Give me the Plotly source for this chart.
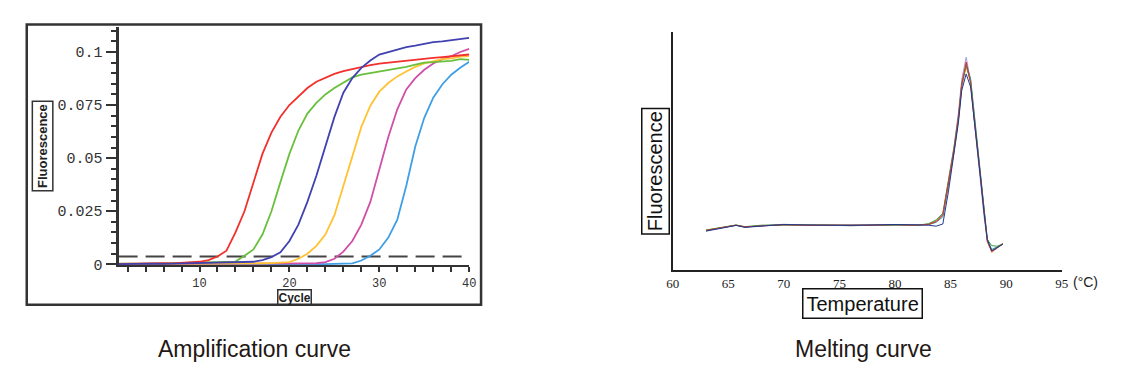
import plotly.graph_objects as go

# ---------------- Amplification curve data ----------------
cycles = list(range(1, 41))
amp_red = [0.0002, 0.0003, 0.0002, 0.0004, 0.0003, 0.0005, 0.0004, 0.0006, 0.0008, 0.0012,
           0.0020, 0.0037, 0.0064, 0.0150, 0.0250, 0.0380, 0.0520, 0.0620, 0.0695, 0.0750,
           0.0790, 0.0830, 0.0860, 0.0880, 0.0897, 0.0910, 0.0920, 0.0930, 0.0938, 0.0945,
           0.0950, 0.0955, 0.0960, 0.0965, 0.0970, 0.0972, 0.0976, 0.0980, 0.0984, 0.0988]
amp_green = [0.0003, 0.0002, 0.0004, 0.0003, 0.0003, 0.0004, 0.0005, 0.0004, 0.0005, 0.0006,
             0.0007, 0.0008, 0.0010, 0.0013, 0.0040, 0.0070, 0.0140, 0.0250, 0.0387, 0.0520,
             0.0630, 0.0710, 0.0760, 0.0800, 0.0830, 0.0854, 0.0880, 0.0893, 0.0900, 0.0908,
             0.0915, 0.0920, 0.0930, 0.0940, 0.0950, 0.0952, 0.0955, 0.0958, 0.0966, 0.0963]
amp_blue = [0.0001, 0.0002, 0.0001, 0.0002, 0.0003, 0.0002, 0.0003, 0.0002, 0.0003, 0.0004,
            0.0004, 0.0005, 0.0006, 0.0007, 0.0009, 0.0012, 0.0020, 0.0034, 0.0057, 0.0110,
            0.0187, 0.0294, 0.0417, 0.0555, 0.0693, 0.0808, 0.0877, 0.0925, 0.0960, 0.0988,
            0.1000, 0.1012, 0.1023, 0.1030, 0.1038, 0.1046, 0.1050, 0.1055, 0.1060, 0.1066]
amp_yellow = [0.0002, 0.0001, 0.0002, 0.0002, 0.0001, 0.0002, 0.0002, 0.0003, 0.0002, 0.0003,
              0.0003, 0.0002, 0.0003, 0.0003, 0.0004, 0.0004, 0.0005, 0.0006, 0.0008, 0.0010,
              0.0026, 0.0050, 0.0087, 0.0140, 0.0230, 0.0370, 0.0510, 0.0647, 0.0747, 0.0813,
              0.0854, 0.0885, 0.0908, 0.0930, 0.0946, 0.0957, 0.0966, 0.0970, 0.0978, 0.0980]
amp_magenta = [0.0001, 0.0001, 0.0002, 0.0001, 0.0001, 0.0002, 0.0001, 0.0002, 0.0002, 0.0001,
               0.0002, 0.0002, 0.0001, 0.0002, 0.0002, 0.0002, 0.0003, 0.0002, 0.0003, 0.0003,
               0.0003, 0.0004, 0.0005, 0.0010, 0.0026, 0.0060, 0.0110, 0.0187, 0.0294, 0.0448,
               0.0600, 0.0730, 0.0824, 0.0877, 0.0916, 0.0946, 0.0966, 0.0980, 0.1000, 0.1015]
amp_skyblue = [0.0000, 0.0001, 0.0000, 0.0001, 0.0000, 0.0001, 0.0000, 0.0001, 0.0001, 0.0000,
               0.0001, 0.0000, 0.0001, 0.0001, 0.0000, 0.0001, 0.0001, 0.0000, 0.0001, 0.0001,
               0.0000, 0.0001, 0.0001, 0.0001, 0.0002, 0.0002, 0.0004, 0.0018, 0.0040, 0.0070,
               0.0126, 0.0210, 0.0370, 0.0555, 0.0690, 0.0785, 0.0847, 0.0893, 0.0926, 0.0954]
amp_threshold = 0.0037
amp_xticks = [10, 20, 30, 40]
amp_yticks = [0, 0.025, 0.05, 0.075, 0.1]
amp_yticktext = ["0", "0.025", "0.05", "0.075", "0.1"]

# ---------------- Melting curve data ----------------
temps = [63.0, 64.0, 65.0, 65.7, 66.5, 68.0, 70.0, 72.0, 74.0, 76.0, 78.0, 80.0, 82.0, 83.0, 83.7,
         84.3, 84.8, 85.3, 85.7, 86.0, 86.4, 86.8, 87.1, 87.4, 87.7, 88.0, 88.3, 88.7, 89.2, 89.7]
melt_red = [16.8, 17.6, 18.5, 19.0, 18.3, 18.8, 19.2, 19.0, 19.0, 18.8, 19.0, 19.2, 19.0, 19.3, 20.5,
            23.4, 36.5, 50.5, 64.0, 78.0, 87.5, 78.5, 64.5, 50.8, 37.0, 23.4, 12.4, 8.0, 9.6, 11.2]
melt_navy = [16.5, 17.4, 18.4, 18.9, 18.1, 18.6, 19.3, 19.1, 18.9, 18.9, 19.1, 19.3, 19.1, 19.0, 18.6,
             19.5, 33.0, 48.0, 62.0, 75.5, 82.5, 77.0, 65.0, 51.5, 38.5, 24.5, 13.0, 8.2, 9.5, 11.0]
melt_green = [17.0, 17.8, 18.6, 19.1, 18.4, 19.0, 19.1, 19.1, 19.0, 18.9, 18.9, 19.1, 19.0, 19.6, 21.2,
              24.0, 37.5, 51.5, 64.8, 78.5, 86.0, 79.0, 65.5, 52.0, 38.0, 24.5, 13.0, 10.4, 10.2, 11.2]
melt_orange = [16.9, 17.7, 18.5, 19.0, 18.2, 18.9, 19.0, 19.1, 19.0, 18.8, 19.1, 19.1, 19.0, 19.5, 20.8,
               23.0, 35.5, 49.5, 63.0, 77.0, 85.5, 80.0, 66.5, 52.5, 38.5, 24.0, 12.0, 7.6, 9.4, 11.2]
melt_lavender = [16.7, 17.5, 18.5, 19.0, 18.3, 18.8, 19.4, 19.0, 19.1, 18.9, 19.2, 19.3, 19.1, 19.4, 20.6,
                 23.8, 37.5, 51.8, 66.0, 80.0, 89.5, 79.5, 64.0, 50.0, 36.5, 23.0, 12.2, 8.5, 9.8, 11.3]
melt_teal = [16.8, 17.6, 18.6, 19.0, 18.2, 18.8, 19.2, 19.0, 18.9, 18.8, 19.0, 19.2, 19.1, 19.2, 20.2,
             22.5, 36.0, 50.0, 63.5, 77.5, 86.8, 80.5, 67.0, 53.0, 39.0, 25.0, 13.2, 8.8, 9.9, 11.1]
melt_xticks = [60, 65, 70, 75, 80, 85, 90, 95]

W, H = 1132, 382
def px(x):
    return x / W
def py(y):
    return (H - y) / H

fig = go.Figure()

amp_series = [
    (amp_skyblue, "#3f9fe6"), (amp_magenta, "#d04fa8"), (amp_yellow, "#ffc232"),
    (amp_green, "#6abf3c"), (amp_red, "#f2302c"), (amp_blue, "#4142b0"),
]
fig.add_trace(go.Scatter(x=[cycles[0], cycles[-1]], y=[amp_threshold, amp_threshold], mode="lines",
                         line=dict(color="#444444", width=2, dash="19px,8px"),
                         xaxis="x", yaxis="y", showlegend=False, hoverinfo="skip"))
for vals, col in amp_series:
    fig.add_trace(go.Scatter(x=cycles, y=vals, mode="lines", line=dict(color=col, width=1.8),
                             xaxis="x", yaxis="y", showlegend=False))

melt_series = [
    (melt_lavender, "#a596d8"), (melt_orange, "#f08a3a"), (melt_teal, "#2a9a9a"),
    (melt_green, "#3aa044"), (melt_red, "#e0302a"), (melt_navy, "#1f3a93"),
]
for vals, col in melt_series:
    fig.add_trace(go.Scatter(x=temps, y=vals, mode="lines", line=dict(color=col, width=1),
                             xaxis="x2", yaxis="y2", showlegend=False))

mono = "Liberation Mono, DejaVu Sans Mono, monospace"
sans = "Liberation Sans, Arial, sans-serif"
serif = "Liberation Serif, Times New Roman, serif"

fig.update_layout(
    width=W, height=H,
    margin=dict(l=0, r=0, t=0, b=0),
    paper_bgcolor="white", plot_bgcolor="white",
    xaxis=dict(domain=[px(113), px(468)], range=[1, 40], anchor="y",
               tickvals=amp_xticks, ticks="outside", ticklen=5, tickwidth=2, tickcolor="#333",
               minor=dict(dtick=2, tick0=0, ticks="outside", ticklen=5, tickwidth=2, tickcolor="#333"),
               showline=True, linewidth=2, linecolor="#333", showgrid=False, zeroline=False,
               tickfont=dict(family=mono, size=12, color="#333")),
    yaxis=dict(domain=[py(271.7), py(28)], range=[-0.00046, 0.1116], anchor="x",
               tickvals=amp_yticks, ticktext=amp_yticktext, ticks="outside", ticklen=10,
               tickwidth=2, tickcolor="#333",
               minor=dict(dtick=0.005, tick0=0, ticks="outside", ticklen=5, tickwidth=2, tickcolor="#333"),
               showline=True, linewidth=3, linecolor="#333", showgrid=False, zeroline=False,
               tickfont=dict(family=mono, size=15, color="#333")),
    xaxis2=dict(domain=[px(674), px(1068)], range=[60, 95], anchor="y2",
                tickvals=melt_xticks, ticks="", showline=True, linewidth=1.5, linecolor="#222",
                showgrid=False, zeroline=False, tickfont=dict(family=serif, size=13, color="#222")),
    yaxis2=dict(domain=[py(277), py(33)], range=[0, 100], anchor="x2",
                showticklabels=False, ticks="", showline=True, linewidth=1.5, linecolor="#222",
                showgrid=False, zeroline=False),
    shapes=[dict(type="rect", xref="paper", yref="paper", x0=px(20), x1=px(480), y0=py(312), y1=py(25),
                 line=dict(color="#333", width=2.5))],
    annotations=[
        dict(text="<b>Fluorescence</b>", x=px(36.5), y=py(150), xref="paper", yref="paper",
             textangle=-90, showarrow=False, font=dict(family=sans, size=13, color="#222"),
             bordercolor="#333", borderwidth=1.5, borderpad=2, xanchor="center", yanchor="middle"),
        dict(text="<b>Cycle</b>", x=px(291.5), y=py(305), xref="paper", yref="paper",
             showarrow=False, font=dict(family=sans, size=12, color="#222"),
             bordercolor="#333", borderwidth=1.5, borderpad=0, xanchor="center", yanchor="middle"),
        dict(text="Fluorescence", x=px(657), y=py(175), xref="paper", yref="paper",
             textangle=-90, showarrow=False, font=dict(family=sans, size=20, color="#111"),
             bordercolor="#111", borderwidth=1.5, borderpad=2, xanchor="center", yanchor="middle"),
        dict(text="Temperature", x=px(866), y=py(310.5), xref="paper", yref="paper",
             showarrow=False, font=dict(family=sans, size=20, color="#111"),
             bordercolor="#111", borderwidth=1.5, borderpad=3, xanchor="center", yanchor="middle"),
        dict(text="(°C)", x=px(1091.5), y=py(289), xref="paper", yref="paper",
             showarrow=False, font=dict(family=sans, size=14, color="#222"),
             xanchor="center", yanchor="middle"),
        dict(text="Amplification curve", x=px(251), y=py(357), xref="paper", yref="paper",
             showarrow=False, font=dict(family=sans, size=23, color="#231815"),
             xanchor="center", yanchor="middle"),
        dict(text="Melting curve", x=px(867), y=py(357), xref="paper", yref="paper",
             showarrow=False, font=dict(family=sans, size=23, color="#231815"),
             xanchor="center", yanchor="middle"),
    ],
)

fig.write_html("out.html", config={"displayModeBar": False},
               post_script="document.body.style.margin='0';document.body.style.padding='0';"
                           "document.documentElement.style.overflow='hidden';")
